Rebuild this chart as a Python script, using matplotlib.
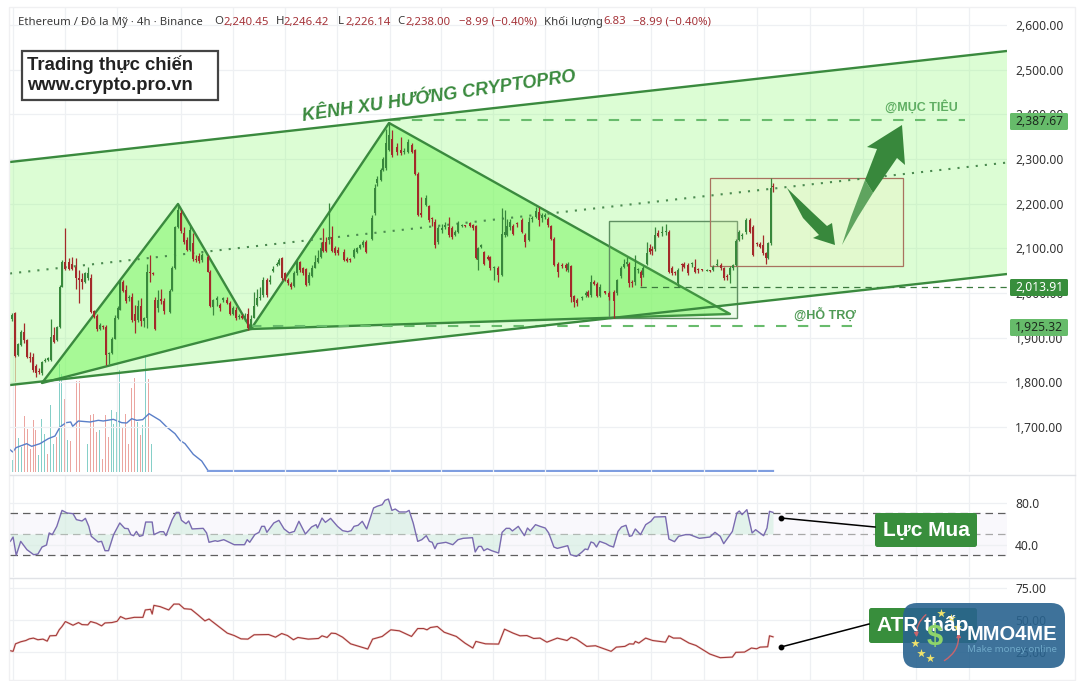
import matplotlib
matplotlib.use('Agg')
import matplotlib.pyplot as plt
from matplotlib.patches import Polygon, Rectangle, FancyBboxPatch, FancyArrowPatch

plt.rcParams['font.family'] = ['Noto Sans', 'DejaVu Sans']
BOLD = 'Liberation Sans'

# candles as (bar time, open, high, low, close), one list per swing
swing_first_rally = [
    (12, 1941, 1956, 1938, 1951), (15, 1956, 1958, 1856, 1859), (18, 1861, 1887, 1859, 1886),
    (21, 1883, 1917, 1881, 1913), (24, 1913, 1932, 1887, 1895), (27, 1895, 1898, 1854, 1856),
    (30, 1857, 1869, 1846, 1854), (33, 1857, 1866, 1824, 1828), (36, 1836, 1842, 1813, 1820),
    (39, 1826, 1831, 1819, 1824), (42, 1820, 1848, 1816, 1846), (45, 1848, 1854, 1845, 1851),
    (48, 1850, 1857, 1848, 1854), (51, 1851, 1941, 1848, 1902), (54, 1906, 1925, 1889, 1891),
    (57, 1895, 1926, 1892, 1923), (60, 1923, 2018, 1921, 2014), (62, 2014, 2074, 2013, 2070),
    (65, 2070, 2145, 2051, 2053), (69, 2070, 2078, 2051, 2053), (72, 2066, 2080, 2051, 2053),
    (76, 2059, 2078, 2010, 2033), (79, 2033, 2051, 1977, 2029), (82, 2031, 2044, 2010, 2025),
    (85, 2025, 2048, 2022, 2044), (88, 2033, 2059, 2029, 2045), (91, 2033, 2042, 1956, 1958),
    (94, 1960, 1963, 1943, 1947), (97, 1948, 1954, 1916, 1919), (100, 1919, 1932, 1917, 1928),
    (103, 1926, 1928, 1920, 1923), (106, 1925, 1928, 1839, 1861), (109, 1863, 1868, 1840, 1865),
    (112, 1865, 1901, 1863, 1898), (115, 1898, 1950, 1896, 1945), (118, 1943, 1970, 1941, 1966),
    (120, 1963, 2030, 1961, 2025), (123, 2025, 2030, 2003, 2005), (126, 2007, 2018, 1978, 1981),
    (129, 1988, 1996, 1981, 1990), (132, 1992, 1999, 1936, 1940), (135, 1953, 1973, 1910, 1938),
    (138, 1940, 1984, 1936, 1971), (141, 1971, 1988, 1926, 1938), (144, 1938, 1947, 1925, 1943),
    (147, 1943, 2066, 1921, 2048), (150, 2045, 2085, 2025, 2044), (153, 2044, 2047, 2040, 2043),
    (155, 1984, 1991, 1917, 1919), (158, 1966, 2007, 1958, 1984), (161, 1986, 2010, 1975, 1982),
    (164, 1981, 1988, 1954, 1960), (170, 1958, 2010, 1955, 2004), (172, 2007, 2060, 2005, 2055),
    (175, 2055, 2150, 2053, 2148), (178, 2148, 2195, 2146, 2186),
]
swing_first_drop = [
    (181, 2180, 2186, 2135, 2138), (184, 2135, 2148, 2110, 2115), (187, 2119, 2125, 2093, 2096),
    (190, 2096, 2150, 2093, 2141), (193, 2111, 2135, 2072, 2075), (196, 2075, 2085, 2070, 2074),
    (199, 2083, 2090, 2068, 2072), (202, 2074, 2090, 2070, 2085), (208, 2080, 2085, 2046, 2048),
    (210, 2048, 2052, 1968, 1971), (213, 1969, 1987, 1950, 1984), (217, 1984, 1993, 1972, 1988),
    (220, 1973, 1978, 1960, 1966), (223, 1984, 1992, 1980, 1988), (227, 1984, 1990, 1975, 1977),
    (230, 1977, 1982, 1950, 1954), (233, 1954, 1972, 1950, 1966), (236, 1962, 1968, 1940, 1943),
    (239, 1947, 1952, 1941, 1948), (242, 1948, 1952, 1942, 1945), (245, 1945, 1955, 1938, 1947),
    (248, 1954, 1966, 1918, 1921),
]
swing_main_rally = [
    (251, 1925, 1950, 1920, 1941), (254, 1945, 2003, 1943, 1971), (257, 1973, 2010, 1970, 1988),
    (260, 1988, 2014, 1985, 1990), (263, 1995, 2035, 1990, 2029), (267, 2029, 2033, 1992, 1995),
    (270, 2025, 2040, 2020, 2029), (273, 2050, 2060, 2047, 2053), (277, 2063, 2070, 2061, 2066),
    (279, 2066, 2078, 2063, 2074), (282, 2078, 2080, 2030, 2033), (285, 2044, 2048, 2026, 2029),
    (288, 2029, 2033, 2018, 2022), (291, 2020, 2024, 2010, 2013), (294, 2016, 2050, 2013, 2044),
    (297, 2044, 2074, 2040, 2070), (300, 2070, 2072, 2048, 2051), (303, 2055, 2058, 2040, 2044),
    (306, 2053, 2056, 2015, 2018), (309, 2022, 2046, 2018, 2040), (312, 2037, 2062, 2035, 2057),
    (315, 2057, 2085, 2055, 2070), (318, 2070, 2096, 2067, 2078), (321, 2081, 2115, 2078, 2100),
    (323, 2115, 2145, 2092, 2095), (326, 2115, 2125, 2092, 2095), (329, 2119, 2201, 2110, 2126),
    (332, 2126, 2150, 2092, 2095), (335, 2100, 2105, 2085, 2089), (338, 2096, 2102, 2085, 2089),
    (344, 2092, 2098, 2071, 2074), (347, 2075, 2080, 2069, 2072), (350, 2075, 2078, 2070, 2074),
    (354, 2081, 2100, 2078, 2096), (357, 2092, 2104, 2090, 2100), (360, 2100, 2110, 2098, 2107),
    (363, 2107, 2118, 2104, 2115), (366, 2115, 2118, 2090, 2092), (372, 2120, 2175, 2118, 2167),
    (375, 2178, 2245, 2175, 2234), (377, 2247, 2262, 2240, 2256), (381, 2253, 2280, 2250, 2275),
    (383, 2275, 2305, 2272, 2301), (386, 2279, 2368, 2275, 2335), (389, 2320, 2383, 2318, 2354),
]
swing_main_drop = [
    (392, 2344, 2365, 2305, 2309), (397, 2327, 2335, 2310, 2316), (401, 2320, 2350, 2310, 2314),
    (404, 2316, 2325, 2312, 2319), (408, 2316, 2345, 2313, 2339), (412, 2331, 2336, 2314, 2316),
    (415, 2320, 2323, 2264, 2266), (418, 2266, 2270, 2172, 2175), (421, 2178, 2216, 2170, 2175),
    (426, 2197, 2220, 2195, 2212), (429, 2195, 2198, 2160, 2163), (432, 2167, 2170, 2150, 2165),
    (435, 2160, 2165, 2100, 2107), (438, 2115, 2150, 2110, 2145), (442, 2141, 2155, 2135, 2145),
    (445, 2148, 2160, 2144, 2152), (449, 2148, 2170, 2125, 2130), (452, 2145, 2150, 2120, 2125),
    (455, 2130, 2140, 2128, 2137), (458, 2137, 2162, 2135, 2156), (462, 2150, 2155, 2148, 2151),
    (465, 2150, 2152, 2147, 2149), (470, 2157, 2160, 2148, 2150), (473, 2152, 2155, 2142, 2145),
    (476, 2150, 2153, 2075, 2078), (478, 2074, 2103, 2051, 2100), (481, 2102, 2110, 2100, 2107),
    (484, 2092, 2095, 2063, 2066), (488, 2081, 2084, 2074, 2077), (490, 2080, 2083, 2052, 2055),
    (494, 2055, 2060, 2029, 2056), (498, 2057, 2060, 2025, 2040), (502, 2040, 2190, 2037, 2132),
    (505, 2130, 2185, 2125, 2136), (507, 2130, 2165, 2128, 2150), (510, 2148, 2165, 2140, 2160),
    (513, 2150, 2155, 2130, 2133), (517, 2156, 2160, 2148, 2155), (522, 2163, 2168, 2134, 2137),
    (525, 2130, 2135, 2102, 2115), (529, 2119, 2170, 2117, 2160), (532, 2165, 2172, 2160, 2167),
    (536, 2171, 2192, 2168, 2184), (539, 2182, 2192, 2150, 2163), (542, 2167, 2180, 2160, 2175),
    (545, 2171, 2180, 2165, 2175), (548, 2165, 2170, 2148, 2152), (551, 2150, 2153, 2118, 2120),
    (554, 2122, 2125, 2060, 2063), (558, 2066, 2070, 2036, 2048), (562, 2063, 2068, 2055, 2060),
    (566, 2063, 2068, 2050, 2055), (568, 2051, 2070, 2048, 2064), (571, 2060, 2063, 1980, 1992),
    (574, 1993, 1996, 1969, 1980), (577, 1984, 1988, 1972, 1977), (582, 1988, 1993, 1985, 1990),
    (586, 1995, 2005, 1992, 2001), (588, 2003, 2007, 1990, 1993), (591, 1995, 2040, 1992, 2025),
    (594, 2025, 2030, 2018, 2021), (597, 2021, 2025, 1990, 1993), (600, 1993, 2020, 1990, 2014),
    (605, 2003, 2005, 1998, 2001), (609, 2001, 2005, 1985, 1990), (614, 2003, 2007, 1945, 1981),
]
swing_recent = [
    (617, 1999, 2032, 1995, 2029), (621, 2037, 2060, 2033, 2055), (624, 2059, 2075, 2055, 2066),
    (627, 2066, 2080, 2060, 2068), (629, 2066, 2070, 2014, 2022), (632, 2025, 2030, 2014, 2023),
    (635, 2025, 2085, 2018, 2059), (638, 2051, 2057, 2045, 2052), (641, 2048, 2052, 2016, 2033),
    (643, 2040, 2060, 2035, 2055), (647, 2066, 2115, 2063, 2090), (650, 2100, 2110, 2088, 2092),
    (652, 2096, 2105, 2085, 2095), (655, 2098, 2148, 2095, 2130), (658, 2134, 2142, 2125, 2128),
    (662, 2134, 2150, 2128, 2137), (666, 2137, 2155, 2130, 2138), (669, 2137, 2140, 2045, 2048),
    (672, 2055, 2060, 2040, 2045), (675, 2048, 2050, 2040, 2044), (678, 2023, 2056, 2014, 2052),
    (682, 2063, 2068, 2050, 2062), (684, 2066, 2070, 2055, 2059), (688, 2063, 2068, 2040, 2044),
    (692, 2065, 2070, 2058, 2066), (695, 2059, 2075, 2045, 2048), (698, 2052, 2056, 2045, 2051),
    (702, 2052, 2054, 2049, 2051), (707, 2050, 2053, 2049, 2051), (710, 2051, 2052, 2048, 2050),
    (713, 2052, 2062, 2050, 2059), (717, 2063, 2077, 2060, 2066), (721, 2063, 2067, 2052, 2055),
    (724, 2055, 2058, 2028, 2033), (727, 2037, 2042, 2030, 2035), (730, 2040, 2060, 2022, 2055),
    (733, 2055, 2066, 2052, 2063), (736, 2063, 2120, 2060, 2117), (739, 2119, 2142, 2117, 2137),
    (742, 2127, 2135, 2120, 2128), (746, 2137, 2167, 2133, 2163), (750, 2163, 2167, 2135, 2137),
    (753, 2148, 2152, 2082, 2085), (757, 2110, 2114, 2105, 2109), (760, 2110, 2115, 2100, 2104),
    (763, 2108, 2130, 2086, 2089), (766, 2089, 2092, 2066, 2078), (768, 2078, 2114, 2075, 2111),
    (771, 2111, 2257, 2108, 2234), (773, 2240.45, 2246.42, 2226.14, 2238.00),
]

# volume bars as (bar time, volume, closed up)
volume_bars = [
    (12.7, 35, True), (15.3, 345, False), (18.3, 103, True), (21.3, 75, True), (24.3, 167, False),
    (27.3, 130, False), (30.3, 70, False), (33.3, 155, False), (35.3, 125, False), (38.3, 50, True),
    (41.3, 160, True), (44.3, 115, True), (47.3, 55, False), (50.3, 200, True), (53.3, 85, True),
    (56.3, 105, False), (59.3, 325, True), (61.7, 295, True), (64.7, 220, False), (67.3, 97, True),
    (70.7, 93, False), (76.7, 273, False), (79.3, 273, False), (82, 85, True), (85, 107, True),
    (87.7, 83, True), (90.7, 170, False), (93.7, 173, False), (96.7, 120, False), (99.3, 125, True),
    (102.3, 40, False), (105.3, 170, False), (108.3, 105, False), (111.3, 187, True), (113.3, 145, True),
    (116.3, 180, True), (119.3, 307, True), (122.3, 135, False), (125.3, 175, False), (128.3, 85, False),
    (131.3, 253, False), (134.3, 283, False), (137.3, 150, True), (140.3, 110, False), (142.7, 140, True),
    (145.3, 345, True), (148.3, 280, False), (151.3, 85, True),
]
late_volume_t = [723]
late_volume = [36]
volume_ma_t = [10, 12.7, 16, 26.7, 31.7, 40, 48.3, 55, 60, 66, 70.7, 72.7, 78.3, 90, 98.3, 103.3,
               113.3, 121.7, 126.7, 131.7, 136.7, 142.7, 149, 160, 166.7, 175, 180, 185, 193.3,
               201.7, 208.3, 773]
volume_ma = [67, 60, 73, 85, 77, 85, 100, 108, 135, 148, 150, 137, 153, 150, 155, 153,
             158, 148, 147, 160, 155, 157, 175, 155, 135, 115, 95, 85, 53,
             33, 3, 3]

rsi_t = [10.3, 13.1, 16.2, 20.7, 26.9, 33.7, 37.9, 42, 46.5, 49.2, 52.3, 56.8, 62, 67.1, 73, 76.4,
         82, 85.4, 88.8, 91.3, 98.1, 101.6, 105, 108.5, 113.6, 119.8, 124.7, 128.1, 130.9, 133.6,
         136.4, 139.5, 142.9, 145.7, 152.2, 153.9, 160.1, 163.6, 166, 172.2, 176.3, 179.1, 181.5,
         186, 188.7, 192.1, 203.2, 206.6, 209, 215.2, 217.6, 223.8, 230.7, 234.2, 244.5, 247.2,
         249.7, 254.8, 259, 261.7, 264.5, 266.9, 273.8, 278.9, 284.1, 289.3, 294.4, 298.9, 305.4,
         311.6, 316.1, 317.5, 322, 325.4, 330.6, 337.5, 342.6, 347.8, 351.2, 354, 358.1, 362.3,
         366.7, 373.6, 377.1, 382.2, 385, 388.4, 391.9, 395.3, 399.4, 406.3, 409.1, 413.2, 417.7,
         421.8, 426.3, 429.4, 432.2, 434.9, 437.3, 445.9, 452.8, 458, 463.2, 472.5, 475.2, 478.6,
         481.4, 483.8, 487.3, 491.7, 498.6, 502.1, 506.2, 509.6, 512.4, 518.3, 524.4, 527.5, 530.3,
         535.5, 540, 545.2, 548.7, 553.9, 557.3, 562.5, 567.7, 570.5, 576.4, 581.6, 585.1, 587.8,
         591, 593.7, 596.5, 599.6, 605.9, 609.3, 613.5, 618, 621.5, 626, 629.4, 631.9, 635.3,
         640.5, 645.7, 650.9, 654.4, 665.5, 668.9, 674.5, 678.6, 685.6, 689.7, 699.4, 709.8, 715,
         720.2, 723.7, 732.4, 736.9, 739.3, 742.1, 746.9, 752.1, 755.6, 763.6, 767, 769.5, 773]
rsi = [43, 47.1, 29.7, 43, 35.1, 30.3, 30.9, 37.6, 39.5, 51, 49.4, 57.3, 72.5, 70, 69.4, 63.7,
       62.4, 64.9, 57.3, 47.8, 42.4, 43, 34.1, 34.1, 49.4, 60.5, 55.4, 55.1, 49.4, 48.4,
       52.5, 47.8, 48.7, 61.4, 61.4, 49.4, 52.2, 52.2, 48.4, 63.7, 70.6, 70.6, 63,
       59.8, 62.4, 54.8, 55.4, 51, 42.1, 43.6, 43, 44.6, 41.4, 39.8, 39.8, 44.6,
       42.1, 49.4, 51.6, 57.3, 57.3, 51.6, 60.5, 63, 54.8, 51, 52.5, 62.1, 50,
       56.7, 58.9, 55.7, 65.2, 61.1, 64.9, 57.3, 53.2, 52.2, 53.2, 57.3, 58.3, 62.1,
       54.8, 74.8, 76.4, 77.9, 82.1, 83.3, 72.5, 73.8, 71, 71, 72.5, 60.5, 43,
       44.6, 48.4, 43, 42.1, 36, 40.8, 42.1, 39.8, 44.6, 45.9, 46.5, 32.9, 38.2,
       38.2, 34.1, 36, 34.1, 31.9, 51.6, 55.4, 55.4, 52.9, 57.3, 48.4, 55.7, 52.9,
       58.9, 57.3, 55.7, 51, 37.6, 36.3, 37.6, 38.9, 30.3, 28.7, 32.5, 35.7, 35.1,
       42.4, 41.4, 37.6, 43, 40.8, 38.9, 37.6, 52.5, 56.7, 58.3, 47.8, 48.4, 54.8,
       49.4, 58.9, 62.1, 66.2, 66.5, 45.2, 42.7, 47.8, 49.4, 49.4, 45.9, 47.1, 51.6,
       47.8, 40.8, 52.5, 70, 71.9, 68.4, 73.2, 51, 54.1, 48.4, 55.7, 71.6, 70.6]

atr_t = [10.3, 13.1, 15.5, 20.7, 25.8, 29.3, 33.4, 37.9, 43, 47.2, 49.9, 56.1, 59.2, 62, 65.4, 73,
         78.5, 82, 87.8, 90.6, 96.4, 101.6, 105, 111.9, 117.1, 120.5, 125.7, 134.3, 142.9, 145.3,
         150.5, 152.2, 153.9, 160.1, 168.7, 173.9, 179.1, 184.2, 191.1, 198, 204.9, 209, 218.7,
         227.3, 234.2, 241, 247.9, 254.1, 268.6, 275.5, 281.7, 287.5, 293.4, 297.9, 308.2, 318.5,
         322, 327.1, 331.3, 335.7, 342.6, 350.6, 367.8, 372.6, 382.2, 390.8, 399.4, 411.5, 417.7,
         423.6, 427, 430.4, 437.3, 444.2, 456.3, 464.9, 472.8, 475.9, 485.5, 498.6, 504.5, 513.1,
         520, 526.9, 533.7, 540, 546.9, 557.3, 567, 571.2, 576.4, 586.8, 595.5, 611.1, 616.3,
         624.9, 629.4, 633.6, 635.3, 638.8, 645.7, 652.7, 659.6, 665.5, 668.9, 673.4, 680.4, 689,
         696, 709.8, 720.2, 732.4, 735.8, 744.5, 751.4, 756.6, 760.1, 767.7, 769.5, 773]
atr = [26.1, 25.6, 31.5, 33.1, 34.1, 35.4, 36, 34.7, 35.2, 33.6, 37.8, 38, 42.5, 45.1, 49, 46.1,
       48.2, 46.6, 46.4, 49, 47.7, 45.6, 47.9, 48.2, 49.2, 52.9, 51, 52.3, 52.3, 58.1,
       58.6, 54.9, 61.7, 60.7, 58.1, 62.7, 62.7, 59.1, 58.6, 54.2, 49.5, 51, 45.1,
       39.9, 38, 35.4, 35.2, 38.6, 38.8, 36.7, 39.6, 38, 34.7, 36.5, 35.2, 35.7,
       37.8, 36.5, 39.9, 39.6, 36.7, 31.5, 27.4, 35.2, 37.3, 42.5, 41.7, 37.3, 43.5,
       43.5, 42.5, 44.3, 45.1, 40.6, 37.3, 32.1, 28.2, 33.4, 31.5, 31.3, 43, 39.9,
       37.8, 38, 35.7, 36, 32.8, 36, 34.1, 36.7, 35.2, 29.5, 30, 25.6, 28.9,
       29.5, 31.5, 31.3, 33.4, 32.1, 36, 34.1, 33.4, 32.8, 37.8, 36, 36, 32.1,
       30.2, 23.5, 20.6, 21.1, 24.8, 25, 28.2, 27.6, 28.9, 29.2, 37.8, 37]

# drawings on the price pane: (bar time, price)
channel_upper = [(10, 2293.3), (1007, 2541.8)]
channel_lower = [(10, 1794), (1007, 2042.5)]
channel_mid = [(10, 2043.7), (1007, 2292)]
triangle_small = [(42, 1798.5), (178, 2199.3), (251, 1919.4)]
triangle_large = [(251, 1919.4), (389, 2380.6), (730, 1953)]
range_box = (609, 737, 1944, 2161)
target_box = (710, 903, 2060, 2257.5)
target_price = 2387.67
near_support = 2013.91
support_price = 1925.32

price_ticks = [2600, 2500, 2400, 2300, 2200, 2100, 2000, 1900, 1800, 1700]
time_grid = [13, 65, 117, 181, 233, 285, 337, 390, 441, 493, 545, 598, 651, 704, 757, 810, 863, 916, 969]

GREEN = '#3a8a3e'
UP = '#38883c'
DOWN = '#a32a2a'
W, H = 1084, 681


def pane(y0, y1, xmax=1007):
    return fig.add_axes([10 / W, 1 - y1 / H, (xmax - 10) / W, (y1 - y0) / H])


def style_axis(ax, ylim, yticks, fmt):
    ax.set_xlim(10, 1007)
    ax.set_ylim(*ylim)
    ax.set_xticks(time_grid)
    ax.set_yticks(yticks)
    ax.set_yticklabels([fmt.format(v) for v in yticks])
    ax.yaxis.tick_right()
    ax.tick_params(length=0, labelbottom=False, pad=5.8, labelsize=8.7, labelcolor='#333333')
    ax.grid(True, color='#eef0f3', lw=0.9)
    ax.set_axisbelow(True)
    for s in ax.spines.values():
        s.set_visible(False)


fig = plt.figure(figsize=(W / 100, H / 100), dpi=100)
fig.patch.set_facecolor('white')

ax = pane(8, 472)
style_axis(ax, (1599.3, 2638), price_ticks, '{:,.2f}')
ax.set_zorder(2)
ax.patch.set_visible(False)

# volume sits on its own scale under the price pane
vol_ax = ax.twinx()
vol_ax.set_zorder(1)
vol_ax.set_ylim(0, 1392)
vol_ax.axis('off')
# twinx moves the price labels, put them back on the right
ax.yaxis.tick_right()
ax.tick_params(labelleft=False, labelright=True)

for t, v, up in volume_bars:
    vol_ax.bar(t, v, width=0.9, color='#86cfc8' if up else '#eba5a0')
candles = swing_first_rally + swing_first_drop + swing_main_rally + swing_main_drop + swing_recent
quiet_t = [c[0] for c in candles if c[0] > 152]
vol_ax.bar(quiet_t, [2] * len(quiet_t), width=0.9, color='#a8cfe0')
vol_ax.bar(late_volume_t, late_volume, width=0.9, color='#86cfc8')
vol_ax.plot(volume_ma_t[:-1], volume_ma[:-1], color='#5a7fc8', lw=1.0)
vol_ax.plot(volume_ma_t[-2:], volume_ma[-2:], color='#7f9ee0', lw=1.6)

# channel and triangles
xs = [channel_upper[0][0], channel_upper[1][0], channel_lower[1][0], channel_lower[0][0]]
ys = [channel_upper[0][1], channel_upper[1][1], channel_lower[1][1], channel_lower[0][1]]
ax.add_patch(Polygon(list(zip(xs, ys)), closed=True, fc=(0.55, 0.98, 0.45, 0.3), ec='none', zorder=1))
for tri in (triangle_small, triangle_large):
    ax.add_patch(Polygon(tri, closed=True, fc=(0.45, 0.97, 0.35, 0.5), ec=GREEN, lw=1.7, zorder=1.5,
                         joinstyle='round'))
for line in (channel_upper, channel_lower):
    ax.plot(*zip(*line), color=GREEN, lw=1.7, zorder=3, solid_capstyle='butt')
ax.plot(*zip(*channel_mid), color='#4b8a50', lw=1.5, ls=(0, (1, 3.4)), zorder=3)

# boxes around the last two ranges
x0, x1, y0, y1 = range_box
ax.add_patch(Rectangle((x0, y0), x1 - x0, y1 - y0, fc=(0.45, 0.9, 0.35, 0.13), ec='#5f8f62', lw=1, zorder=2))
x0, x1, y0, y1 = target_box
ax.add_patch(Rectangle((x0, y0), x1 - x0, y1 - y0, fc=(1, 0.93, 0.72, 0.2), ec='#a9725f', lw=0.9, zorder=2))

ax.plot([390, 965], [target_price] * 2, color='#68bb6c', lw=1.5, ls=(0, (5, 5.5)), zorder=2.5)
ax.plot([251, 855], [support_price] * 2, color='#68bb6c', lw=1.5, ls=(0, (5, 5.5)), zorder=2.5)
ax.plot([640, 1007], [near_support] * 2, color='#3c7a3f', lw=0.9, ls=(0, (5, 4)), zorder=2.5)

# candles
for t, o, h, l, c in candles:
    col = UP if c >= o else DOWN
    ax.vlines(t, l, h, color=col, lw=0.9, zorder=4)
    ax.bar(t, max(abs(c - o), 2.5), bottom=min(o, c), width=2.9, color=col, zorder=5)

# RSI pane
rsi_ax = pane(475, 577)
style_axis(rsi_ax, (9.05, 106.2), [80, 40], '{:.1f}')
rsi_ax.axhspan(30, 70, color='#f9f8fc', zorder=0)
for lvl, c in ((70, '#5f5f5f'), (50, '#a8a8a8'), (30, '#5f5f5f')):
    rsi_ax.axhline(lvl, color=c, lw=0.9, ls=(0, (6, 4)), zorder=1)
rsi_ax.fill_between(rsi_t, rsi, 50, color='#cdeedb', alpha=0.5, lw=0, zorder=2)
rsi_ax.plot(rsi_t, rsi, color='#7a6bb0', lw=1.0, zorder=3)

# ATR pane
atr_ax = pane(579, 680)
style_axis(atr_ax, (3.1, 82.4), [75, 50, 25], '{:.2f}')
atr_ax.plot(atr_t, atr, color='#f3d5d1', lw=1.6)
atr_ax.plot(atr_t, atr, color='#a33a3a', lw=0.8)

# overlay in pixel space for captions, tags, arrows and the badge
top = fig.add_axes([0, 0, 1, 1], zorder=10)
top.set_xlim(0, W)
top.set_ylim(H, 0)
top.axis('off')
top.patch.set_visible(False)

# pane frame and separators
top.add_patch(Rectangle((8.5, 7), 1066, 673, fc='none', ec='#f0f0f2', lw=1))
top.plot([10, 1075], [474.5, 474.5], color='#e0e2e6', lw=1)
top.plot([10, 1075], [578, 578], color='#e0e2e6', lw=1)

# legend row
TXT = '#3a3a3a'
RED = '#a5343a'
for x, s, c in [(18, 'Ethereum / Đô la Mỹ · 4h · Binance', TXT), (214, 'O', TXT), (223, '2,240.45', RED),
                (276, 'H', TXT), (284, '2,246.42', RED), (338, 'L', TXT), (345, '2,226.14', RED),
                (397, 'C', TXT), (405, '2,238.00', RED), (459, '−8.99 (−0.40%)', RED),
                (544, 'Khối lượng', TXT), (603, '6.83', RED), (633, '−8.99 (−0.40%)', RED)]:
    top.text(x, 22, s, color=c, fontsize=8.2, va='center', ha='left')

top.add_patch(Rectangle((22, 51), 196, 49, fc='white', ec='#444444', lw=1.6))
top.text(27, 65, 'Trading thực chiến', fontsize=13.3, fontweight='bold', family=BOLD, color='#222222', va='center')
top.text(27, 86, 'www.crypto.pro.vn', fontsize=13.3, fontweight='bold', family=BOLD, color='#222222', va='center')

top.text(303, 121, 'KÊNH XU HƯỚNG CRYPTOPRO', fontsize=13.1, fontweight='bold', style='italic', family=BOLD,
         color=GREEN, rotation=8.3, rotation_mode='anchor', va='baseline', ha='left')
top.text(885, 107, '@MỤC TIÊU', fontsize=9, fontweight='bold', family=BOLD, color='#5fae62', va='center')
top.text(794, 315, '@HỖ TRỢ', fontsize=9, fontweight='bold', family=BOLD, color='#4f9a55', va='center')

# price tags on the axis
for py, s, bg, fg in [(121.5, '2,387.67', '#66bb6a', '#1d2b1e'), (287.5, '2,013.91', '#388e3c', 'white'),
                      (327.5, '1,925.32', '#66bb6a', '#1d2b1e')]:
    top.add_patch(FancyBboxPatch((1010, py - 8.5), 58, 17, boxstyle='round,pad=0,rounding_size=1.5',
                                 fc=bg, ec='none'))
    top.text(1039, py, s, color=fg, fontsize=8.7, ha='center', va='center')

# projected move
top.add_patch(Polygon([(787, 188), (812, 212), (827, 226), (832, 223), (835, 245), (813, 238), (819, 235),
                       (803, 218)], closed=True, fc=UP, ec='none'))
top.add_patch(Polygon([(842, 245), (858, 217), (873, 193), (865, 180), (851, 217)], closed=True,
                      fc='#5fa45f', ec='none'))
top.add_patch(Polygon([(865, 180), (873, 193), (897, 158), (905, 165), (902, 125), (867, 147), (877, 149)],
                      closed=True, fc=UP, ec='none'))

# callouts
for (dx, dy), (bx, by), label, left, right, y0, y1 in [
        ((781, 518), (875, 527), 'Lực Mua', 875, 977, 513, 547),
        ((781, 647), (869, 624), 'ATR thấp', 869, 977, 608, 643)]:
    top.plot([dx, bx], [dy, by], color='black', lw=1.1)
    top.plot(dx, dy, 'o', color='black', ms=3.2)
    top.add_patch(FancyBboxPatch((left, y0), right - left, y1 - y0, boxstyle='round,pad=0,rounding_size=2.5',
                                 fc='#388e3c', ec='none'))
    top.text((left + right) / 2, (y0 + y1) / 2, label, color='white', fontsize=15, fontweight='bold',
             family=BOLD, ha='center', va='center')

# badge in the corner
top.add_patch(FancyBboxPatch((903, 603), 162, 65, boxstyle='round,pad=0,rounding_size=14',
                             fc=(0.16, 0.39, 0.56, 0.9), ec='none'))
top.text(935, 637, '$', color='#8ed46a', fontsize=21, fontweight='bold', family=BOLD, ha='center', va='center')
top.scatter([941, 951, 957, 915, 921, 930], [613, 618, 627, 643, 653, 658], marker='*', s=42,
            color='#f1e36b', linewidths=0)
top.add_patch(FancyArrowPatch((928, 613), (917, 640), connectionstyle='arc3,rad=0.3', arrowstyle='-|>',
                              mutation_scale=6, color='#c9656d', lw=1))
top.add_patch(FancyArrowPatch((942, 662), (958, 630), connectionstyle='arc3,rad=0.35', arrowstyle='-|>',
                              mutation_scale=6, color='#c9656d', lw=1))
top.text(1012, 634, 'MMO4ME', color='white', fontsize=14.5, fontweight='bold', family=BOLD, ha='center', va='center')
top.text(1012, 650, 'Make money online', color='#6fa9c9', fontsize=7, ha='center', va='center')

fig.savefig('out.png', dpi=100)
